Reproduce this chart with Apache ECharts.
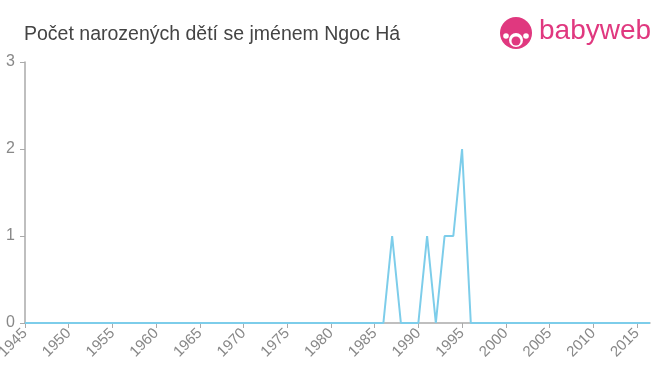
<!DOCTYPE html>
<html><head><meta charset="utf-8">
<script src="https://cdn.jsdelivr.net/npm/echarts@6/dist/echarts.min.js"></script>
<style>html,body{margin:0;padding:0;background:#fff}#c{width:660px;height:375px}</style>
</head><body><div id="c"></div>
<script>
const years = [1986, 1987, 1988, 1989, 1990, 1991, 1992, 1993, 1994, 1995, 1996];
const counts = [0, 1, 0, 0, 0, 1, 0, 1, 1, 2, 0];
const yTicks = [0, 1, 2, 3];
const titleText = 'Počet narozených dětí se jménem Ngoc Há';

const data = [[1945, 0]];
years.forEach((y, i) => data.push([y, counts[i]]));
data.push([2016.5, 0]);

const FONT = 'Arial, Liberation Sans, sans-serif';
const chart = echarts.init(document.getElementById('c'));
chart.setOption({
  animation: false,
  title: { text: titleText, left: 19, top: 20, textStyle: { fontFamily: FONT, fontSize: 19.5, fontWeight: 'normal', color: '#444' } },
  grid: { left: 25, right: 10, top: 62, bottom: 52, outerBoundsMode: 'none', containLabel: false },
  xAxis: {
    type: 'value', min: 1945, max: 2016.5, interval: 5,
    axisLine: { lineStyle: { color: '#aaa', width: 1.5 } },
    axisTick: { show: true, length: 5, lineStyle: { color: '#aaa' } },
    splitLine: { show: false },
    axisLabel: { rotate: 45, color: '#888', fontSize: 15, fontFamily: FONT, showMaxLabel: false, margin: 8, formatter: v => String(v) }
  },
  yAxis: {
    type: 'value', min: 0, max: 3, interval: 1,
    axisLine: { show: true, lineStyle: { color: '#aaa', width: 1.5 } },
    axisTick: { show: true, length: 5, lineStyle: { color: '#aaa' } },
    splitLine: { show: false },
    axisLabel: { color: '#888', fontSize: 16, fontFamily: FONT, margin: 10 }
  },
  series: [{
    type: 'line', data: data, symbol: 'none',
    lineStyle: { color: '#7dcdea', width: 2 }
  }],
  graphic: [
    { type: 'circle', shape: { cx: 516, cy: 33, r: 16 }, style: { fill: '#e0387f' } },
    { type: 'circle', shape: { cx: 516, cy: 40, r: 7 }, style: { fill: '#fff' } },
    { type: 'circle', shape: { cx: 516, cy: 41, r: 4.5 }, style: { fill: '#e0387f' } },
    { type: 'circle', shape: { cx: 506, cy: 36, r: 2.8 }, style: { fill: '#fff' } },
    { type: 'circle', shape: { cx: 526, cy: 36, r: 2.8 }, style: { fill: '#fff' } },
    { type: 'text', left: 539, top: 17, style: { text: 'babyweb', fill: '#e0387f', fontSize: 28, fontFamily: FONT } }
  ]
});
</script></body></html>
